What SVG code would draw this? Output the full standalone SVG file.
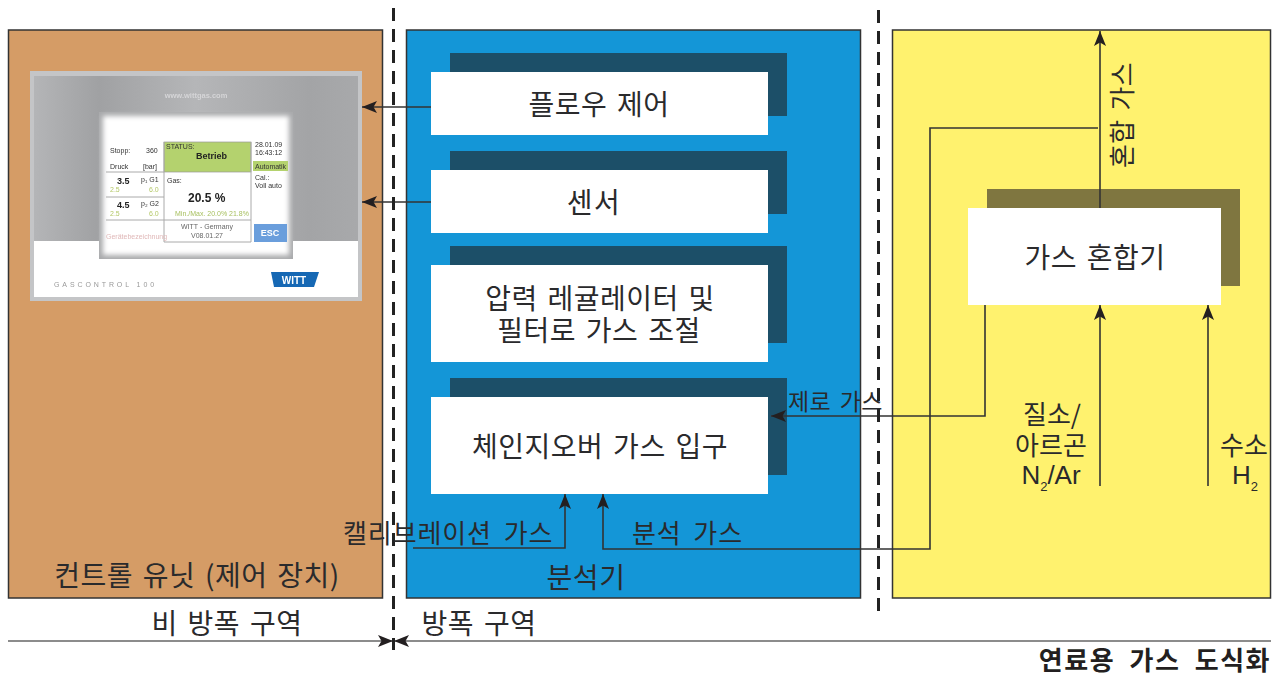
<svg xmlns="http://www.w3.org/2000/svg" width="1276" height="677" viewBox="0 0 1276 677">
<style>
text{font-family:"Noto Sans CJK KR","Liberation Sans",sans-serif;fill:#2a2a2c}
.l{font-size:28px;text-anchor:middle;word-spacing:3px;letter-spacing:.5px}
.n{font-size:26px;text-anchor:middle}
.m{font-size:26px;word-spacing:5px;letter-spacing:.9px}
.panel{stroke:#333;stroke-width:1.5}
.sh{fill:#1c4f68}
.box{fill:#fff}
.wire{fill:none;stroke:#333;stroke-width:1.6}
.rule{fill:none;stroke:#666;stroke-width:1.6}
.dash{fill:none;stroke:#222;stroke-width:3;stroke-dasharray:13 8}
.s{font-family:"Liberation Sans",sans-serif;fill:#333;font-size:7px}
.sub{font-family:"Liberation Sans",sans-serif;font-size:13px}
.la{font-family:"Liberation Sans",sans-serif;font-size:26px;text-anchor:middle}
</style>
<defs>
<marker id="a" markerUnits="userSpaceOnUse" markerWidth="16" markerHeight="14" refX="15" refY="6" orient="auto"><path d="M0 0L15 6L0 12L3.500 6Z" fill="#231f20"/></marker>
<linearGradient id="g" x1="0" y1="0" x2="1" y2="0"><stop offset="0" stop-color="#b4b5b7"/><stop offset=".2" stop-color="#a0a1a3"/><stop offset=".5" stop-color="#b5b6b8"/><stop offset=".85" stop-color="#a3a4a6"/><stop offset="1" stop-color="#a8a9ab"/></linearGradient>
<filter id="b"><feGaussianBlur stdDeviation="2.5"/></filter>
<filter id="b2"><feGaussianBlur stdDeviation=".45"/></filter>
</defs>
<rect width="1276" height="677" fill="#fff"/>

<g id="control-unit">
<rect class="panel" x="8.500" y="30" width="374" height="568" fill="#d59c66"/>
<text class="l" x="197" y="586">컨트롤 유닛 (제어 장치)</text>
</g>
<g id="screen" filter="url(#b2)">
<rect x="30" y="71" width="332" height="230" fill="#c4c5c7"/>
<rect x="34" y="76" width="324" height="165" fill="url(#g)"/>
<rect x="34" y="241" width="324" height="56" fill="#fff"/>
<text x="196" y="98" text-anchor="middle" style="font-family:'Liberation Sans',sans-serif;font-size:7.500px;font-weight:bold;fill:#d5d5d7">www.wittgas.com</text>
<rect x="99" y="112" width="194" height="147" fill="#a9aaac"/>
<rect x="103" y="116" width="186" height="139" fill="#fff" filter="url(#b)"/>
<rect x="164" y="142" width="87" height="30" fill="#b4d26e" stroke="#999" stroke-width=".7"/>
<rect x="253" y="161" width="35" height="10" fill="#b4d26e"/>
<rect x="254" y="224" width="33" height="18" fill="#6a9edc"/>
<path d="M106 172H164M106 197H164M106 220H164M164 142V242H251V142M164 220H251" fill="none" stroke="#aaa" stroke-width="1"/>
<text class="s" x="110" y="153">Stopp:</text><text class="s" x="146" y="153">360</text>
<text class="s" x="110" y="169">Druck</text><text class="s" x="143" y="169">[bar]</text>
<text class="s" x="166" y="149">STATUS:</text>
<text class="s" x="196" y="159" style="font-size:9px;font-weight:bold;fill:#222">Betrieb</text>
<text class="s" x="255" y="147">28.01.09</text><text class="s" x="255" y="155">16:43:12</text>
<text class="s" x="255" y="169">Automatik</text>
<text class="s" x="255" y="180">Cal.:</text><text class="s" x="255" y="188">Voll auto</text>
<text class="s" x="117" y="184" style="font-size:9px;font-weight:bold;fill:#222">3.5</text>
<text class="s" x="141" y="182">p₁ G1</text>
<text class="s" x="110" y="192" style="fill:#b4c868">2.5</text><text class="s" x="149" y="192" style="fill:#b4c868">6.0</text>
<text class="s" x="117" y="208" style="font-size:9px;font-weight:bold;fill:#222">4.5</text>
<text class="s" x="141" y="206">p₂ G2</text>
<text class="s" x="110" y="216" style="fill:#b4c868">2.5</text><text class="s" x="149" y="216" style="fill:#b4c868">6.0</text>
<text class="s" x="106" y="239" style="fill:#e0b8b8">Gerätebezeichnung</text>
<text class="s" x="167" y="183">Gas:</text>
<text class="s" x="188" y="202" style="font-size:12px;font-weight:bold;fill:#222">20.5 %</text>
<text class="s" x="175" y="216" style="fill:#a8c060">Min./Max. 20.0%  21.8%</text>
<text class="s" x="207" y="229" text-anchor="middle" style="fill:#666">WITT - Germany</text>
<text class="s" x="207" y="238" text-anchor="middle" style="fill:#666">V08.01.27</text>
<text class="s" x="270" y="236" text-anchor="middle" style="font-size:9px;font-weight:bold;fill:#fff">ESC</text>
<text class="s" x="54" y="287" style="font-size:7px;letter-spacing:2.900px;fill:#999">GASCONTROL 100</text>
<path d="M271 272H319L314 287H274Z" fill="#1468b4"/>
<text class="s" x="294" y="284" text-anchor="middle" style="font-size:10px;font-weight:bold;fill:#fff">WITT</text>
</g>

<g id="analyzer">
<rect class="panel" x="406.500" y="30" width="454" height="568" fill="#1496d7"/>
<text class="l" x="586" y="588">분석기</text>
</g>
<g id="flow-control">
<rect class="sh" x="450" y="53" width="337" height="63"/>
<rect class="box" x="431" y="72" width="337" height="63"/>
<text class="l" x="599" y="115">플로우 제어</text>
</g>
<g id="sensor">
<rect class="sh" x="450" y="151" width="337" height="63"/>
<rect class="box" x="431" y="170" width="337" height="63"/>
<text class="l" x="594" y="213" style="letter-spacing:1.500px">센서</text>
</g>
<g id="regulator">
<rect class="sh" x="450" y="246" width="337" height="97"/>
<rect class="box" x="431" y="265" width="337" height="97"/>
<text class="l" x="600" y="309">압력 레귤레이터 및</text>
<text class="l" x="599" y="341">필터로 가스 조절</text>
</g>
<g id="inlet">
<rect class="sh" x="450" y="378" width="337" height="97"/>
<rect class="box" x="431" y="397" width="337" height="97"/>
<text class="l" x="600" y="457">체인지오버 가스 입구</text>
</g>

<g id="mixer-panel">
<rect class="panel" x="892.500" y="30" width="378" height="568" fill="#fff26e"/>
</g>
<g id="gas-mixer">
<rect x="987" y="189" width="253" height="97" fill="#7f7640"/>
<rect class="box" x="968" y="208" width="253" height="97"/>
<text class="l" x="1095" y="268">가스 혼합기</text>
</g>

<g id="connectors">
<path class="wire" d="M431 107H362" marker-end="url(#a)"/>
<path class="wire" d="M431 202H362" marker-end="url(#a)"/>
<path class="wire" d="M413 548H565V494" marker-end="url(#a)"/>
<path class="wire" d="M1098 128H930V549H603V494" marker-end="url(#a)"/>
<path class="wire" d="M985 305V416H771" marker-end="url(#a)"/>
<path class="wire" d="M1100 208V31" marker-end="url(#a)"/>
<path class="wire" d="M1100 486V305" marker-end="url(#a)"/>
<path class="wire" d="M1208 486V305" marker-end="url(#a)"/>
<path class="rule" d="M8 641H393" marker-end="url(#a)"/>
<path class="rule" d="M1271 641H394" marker-end="url(#a)"/>
<path class="dash" d="M393.500 8V650"/>
<path class="dash" d="M878.500 8V612" stroke-dashoffset="-2"/>
</g>

<g id="labels">
<text class="m" x="343" y="543">캘리브레이션 가스</text>
<text class="m" x="632" y="543">분석 가스</text>
<text x="788" y="410" style="font-size:23px;word-spacing:3px;letter-spacing:.4px">제로 가스</text>
<text class="n" x="1052" y="424">질소/</text>
<text class="n" x="1051" y="455">아르곤</text>
<text class="la" x="1051" y="484">N<tspan class="sub" dy="7">2</tspan><tspan dy="-7">/Ar</tspan></text>
<text class="n" x="1244" y="455">수소</text>
<text class="la" x="1245" y="484">H<tspan class="sub" dy="7">2</tspan></text>
<text transform="translate(1132 115) rotate(-90)" text-anchor="middle" style="font-size:26px;word-spacing:3px;letter-spacing:.3px">혼합 가스</text>
<text class="l" x="227" y="634">비 방폭 구역</text>
<text class="l" x="479" y="634">방폭 구역</text>
<text x="1271" y="670" text-anchor="end" style="font-size:26px;font-weight:bold;word-spacing:7px;letter-spacing:1.500px;fill:#231f20">연료용 가스 도식화</text>
</g>
</svg>
